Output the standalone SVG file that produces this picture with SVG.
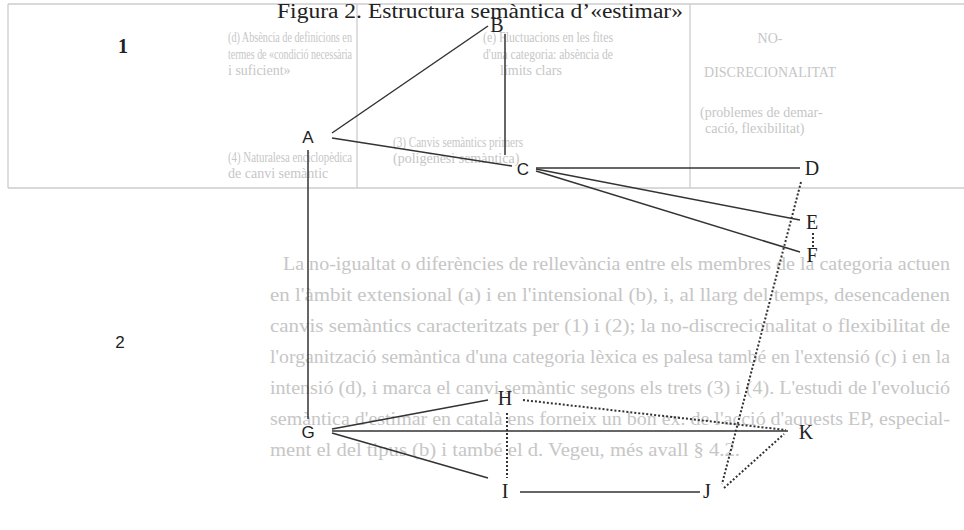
<svg xmlns="http://www.w3.org/2000/svg" width="964" height="530" viewBox="0 0 964 530">
<style>
.bg{font-family:"Liberation Serif",serif;fill:#c6c6c6}
.tb{font-size:14px}
.bd{font-size:18.5px}
.grid{stroke:#cdcdcd;stroke-width:1.3;fill:none}
.lbl{font-family:"Liberation Serif",serif;font-size:20px;fill:#222;text-anchor:middle}
.sans{font-family:"Liberation Sans",sans-serif;font-size:17px;fill:#222;text-anchor:middle}
.title{font-family:"Liberation Serif",serif;font-size:20px;fill:#222}
.ln{stroke:#333;stroke-width:1.5;fill:none}
.dt{stroke:#333;stroke-width:2;stroke-dasharray:2 2;fill:none}
</style>
<rect width="964" height="530" fill="#fff"/>
<g id="background">
<path class="grid" d="M8 4H964M8 188H964M8 4V188M357 4V188M690 4V188"/>
<text class="bg tb" x="228" y="42" textLength="124" lengthAdjust="spacingAndGlyphs">(d) Absència de definicions en</text>
<text class="bg tb" x="228" y="59" textLength="124" lengthAdjust="spacingAndGlyphs">termes de «condició necessària</text>
<text class="bg tb" x="228" y="75">i suficient»</text>
<text class="bg tb" x="228" y="162" textLength="124" lengthAdjust="spacingAndGlyphs">(4) Naturalesa enciclopèdica</text>
<text class="bg tb" x="228" y="178">de canvi semàntic</text>
<text class="bg tb" x="483" y="42" textLength="130" lengthAdjust="spacingAndGlyphs">(e) Fluctuacions en les fites</text>
<text class="bg tb" x="483" y="59" textLength="130" lengthAdjust="spacingAndGlyphs">d'una categoria: absència de</text>
<text class="bg tb" x="500" y="75">límits clars</text>
<text class="bg tb" x="393" y="147" textLength="130" lengthAdjust="spacingAndGlyphs">(3) Canvis semàntics primers</text>
<text class="bg tb" x="393" y="163">(poligènesi semàntica)</text>
<text class="bg tb" x="770" y="43" text-anchor="middle">NO-</text>
<text class="bg tb" x="770" y="77" text-anchor="middle">DISCRECIONALITAT</text>
<text class="bg tb" x="700" y="117">(problemes de demar-</text>
<text class="bg tb" x="705" y="133">cació, flexibilitat)</text>
<text class="bg bd" x="283" y="270" textLength="667" lengthAdjust="spacingAndGlyphs">La no-igualtat o diferències de rellevància entre els membres de la categoria actuen</text>
<text class="bg bd" x="270" y="301" textLength="680" lengthAdjust="spacingAndGlyphs">en l'àmbit extensional (a) i en l'intensional (b), i, al llarg del temps, desencadenen</text>
<text class="bg bd" x="270" y="332" textLength="680" lengthAdjust="spacingAndGlyphs">canvis semàntics caracteritzats per (1) i (2); la no-discrecionalitat o flexibilitat de</text>
<text class="bg bd" x="270" y="363" textLength="680" lengthAdjust="spacingAndGlyphs">l'organització semàntica d'una categoria lèxica es palesa també en l'extensió (c) i en la</text>
<text class="bg bd" x="270" y="394" textLength="680" lengthAdjust="spacingAndGlyphs">intensió (d), i marca el canvi semàntic segons els trets (3) i (4). L'estudi de l'evolució</text>
<text class="bg bd" x="270" y="425" textLength="680" lengthAdjust="spacingAndGlyphs">semàntica d'estimar en català ens forneix un bon ex. de l'acció d'aquests EP, especial-</text>
<text class="bg bd" x="270" y="456" textLength="470" lengthAdjust="spacingAndGlyphs">ment el del tipus (b) i també el d. Vegeu, més avall § 4.2.</text>
</g>
<text class="title" x="277" y="18" textLength="406" lengthAdjust="spacingAndGlyphs">Figura 2. Estructura semàntica d’«estimar»</text>
<g id="connectors">
<line class="ln" x1="332" y1="133" x2="488" y2="26"/>
<line class="ln" x1="332" y1="138" x2="512" y2="166"/>
<line class="ln" x1="505" y1="34" x2="505" y2="155"/>
<line class="ln" x1="536" y1="168" x2="800" y2="168"/>
<line class="ln" x1="536" y1="169" x2="800" y2="220"/>
<line class="ln" x1="536" y1="171" x2="800" y2="252"/>
<line class="dt" x1="813" y1="233" x2="813" y2="247"/>
<line class="dt" x1="801" y1="182" x2="722" y2="484"/>
<line class="ln" x1="308" y1="150" x2="308" y2="419"/>
<line class="ln" x1="332" y1="429" x2="488" y2="400"/>
<line class="ln" x1="332" y1="431" x2="788" y2="431"/>
<line class="ln" x1="332" y1="433" x2="488" y2="478"/>
<line class="dt" x1="507" y1="413" x2="507" y2="478"/>
<line class="dt" x1="523" y1="400" x2="786" y2="430"/>
<line class="dt" x1="724" y1="488" x2="784" y2="434"/>
<line class="ln" x1="520" y1="492" x2="700" y2="492"/>
</g>
<g id="n1"><text class="lbl" x="123" y="53" font-weight="bold" font-size="18">1</text></g>
<g id="n2"><text class="sans" x="120" y="348" font-size="16">2</text></g>
<g id="A"><text class="sans" x="308" y="143">A</text></g>
<g id="B"><text class="lbl" x="497" y="32">B</text></g>
<g id="C"><text class="sans" x="523" y="175" font-size="18">C</text></g>
<g id="D"><text class="lbl" x="812" y="175">D</text></g>
<g id="E"><text class="lbl" x="812" y="229">E</text></g>
<g id="F"><text class="lbl" x="812" y="262">F</text></g>
<g id="G"><text class="sans" x="308" y="438" font-size="18">G</text></g>
<g id="H"><text class="lbl" x="505" y="405">H</text></g>
<g id="I"><text class="lbl" x="505" y="498">I</text></g>
<g id="J"><text class="lbl" x="707" y="498">J</text></g>
<g id="K"><text class="lbl" x="806" y="439">K</text></g>
</svg>
